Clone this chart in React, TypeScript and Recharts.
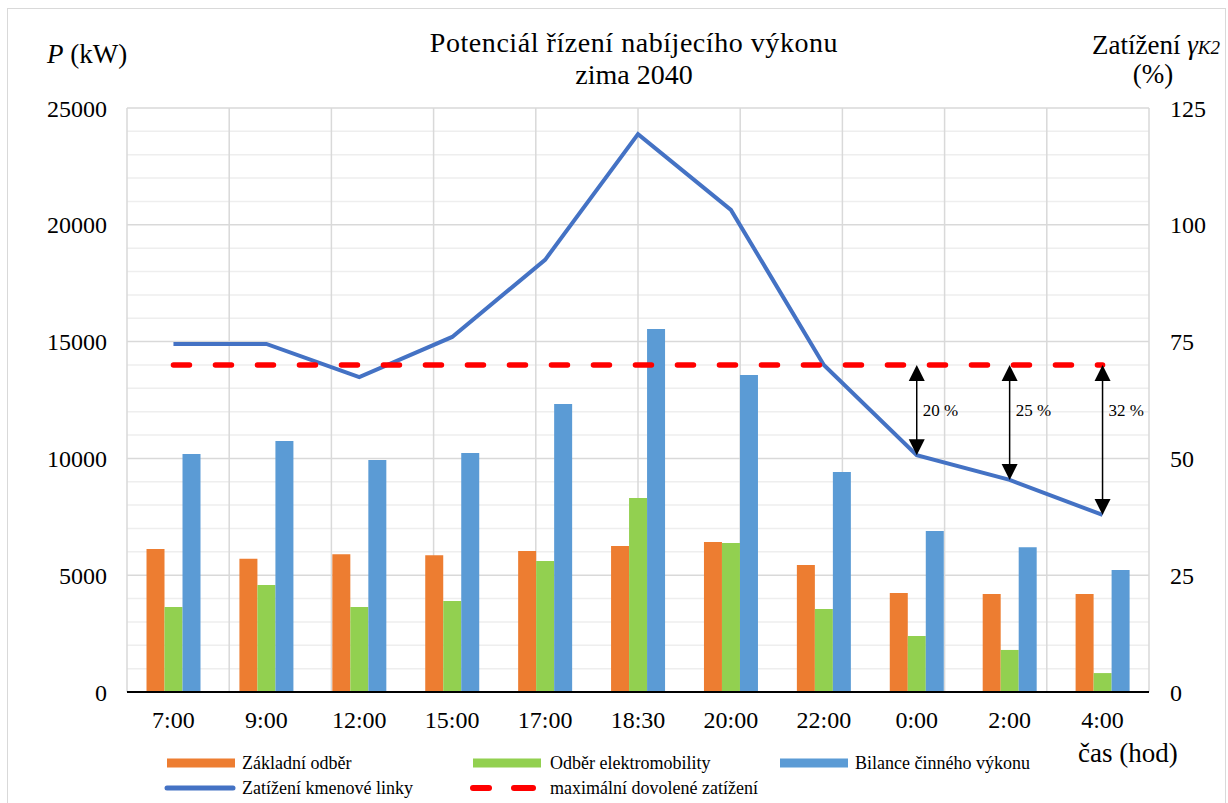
import React from 'react';
import { ComposedChart, Bar, Line, XAxis, YAxis, CartesianGrid, ReferenceLine } from 'recharts';

const categories = ['7:00', '9:00', '12:00', '15:00', '17:00', '18:30', '20:00', '22:00', '0:00', '2:00', '4:00'];
const baseLoad = [6120, 5700, 5900, 5850, 6040, 6250, 6420, 5440, 4240, 4200, 4200];
const evLoad = [3640, 4580, 3640, 3900, 5610, 8300, 6380, 3550, 2400, 1800, 810];
const balance = [10190, 10750, 9930, 10230, 12330, 15540, 13570, 9420, 6890, 6200, 5220];
const lineLoad = [74.5, 74.5, 67.4, 76, 92.5, 119.4, 103.2, 70, 50.7, 45.4, 37.9];
const maxLoad = 70;
const leftTicks = [0, 5000, 10000, 15000, 20000, 25000];
const rightTicks = [0, 25, 50, 75, 100, 125];
const minorTicks = [1000, 2000, 3000, 4000, 6000, 7000, 8000, 9000, 11000, 12000, 13000, 14000, 16000, 17000, 18000, 19000, 21000, 22000, 23000, 24000];
const boundaries = [0, 1, 2, 3, 4, 5, 6, 7, 8, 9, 10, 11];
const arrowCats = ['0:00', '2:00', '4:00'];
const arrowLabels = ['20 %', '25 %', '32 %'];

const seriesNames = {
  base: 'Základní odběr',
  ev: 'Odběr elektromobility',
  bal: 'Bilance činného výkonu',
  load: 'Zatížení kmenové linky',
  limit: 'maximální dovolené zatížení',
};

const COLORS = {
  base: '#ED7D31',
  ev: '#92D050',
  bal: '#5B9BD5',
  load: '#4472C4',
  limit: '#FF0000',
};

const FONT = '"Liberation Serif", "Times New Roman", serif';

const data = categories.map((c, i) => ({
  time: c,
  base: baseLoad[i],
  ev: evLoad[i],
  bal: balance[i],
  load: lineLoad[i],
  limit: maxLoad,
}));

const makeArrow = (label: string) => (props: any) => {
  const { x1, y1, y2 } = props;
  const top = Math.min(y1, y2);
  const bottom = Math.max(y1, y2);
  const x = x1;
  const hw = 8;
  const hh = 16;
  return (
    <g>
      <line x1={x} y1={top + hh - 2} x2={x} y2={bottom - hh + 2} stroke="#000" strokeWidth={1.5} />
      <polygon points={`${x},${top} ${x - hw},${top + hh} ${x + hw},${top + hh}`} fill="#000" />
      <polygon points={`${x},${bottom} ${x - hw},${bottom - hh} ${x + hw},${bottom - hh}`} fill="#000" />
      <text x={x + 6} y={top + 46} dominantBaseline="central" fontSize={17} fontFamily={FONT} fill="#000">
        {label}
      </text>
    </g>
  );
};

const abs = (style: React.CSSProperties): React.CSSProperties => ({
  position: 'absolute',
  fontFamily: FONT,
  color: '#000',
  whiteSpace: 'nowrap',
  ...style,
});

const RectSwatch = ({ color }: { color: string }) => (
  <svg width={68} height={10} style={{ display: 'block' }}>
    <rect x={0} y={0.5} width={68} height={9} fill={color} />
  </svg>
);

const LineSwatch = ({ color }: { color: string }) => (
  <svg width={72} height={10} style={{ display: 'block' }}>
    <line x1={3} y1={5} x2={69} y2={5} stroke={color} strokeWidth={5} strokeLinecap="round" />
  </svg>
);

const DashSwatch = ({ color }: { color: string }) => (
  <svg width={70} height={10} style={{ display: 'block' }}>
    <line x1={3} y1={5} x2={19} y2={5} stroke={color} strokeWidth={6} strokeLinecap="round" />
    <line x1={44} y1={5} x2={63} y2={5} stroke={color} strokeWidth={6} strokeLinecap="round" />
  </svg>
);

const legendItems = [
  { key: 'base', kind: 'rect', sx: 167, tx: 242, y: 763 },
  { key: 'ev', kind: 'rect', sx: 473, tx: 550, y: 763 },
  { key: 'bal', kind: 'rect', sx: 780, tx: 855, y: 763 },
  { key: 'load', kind: 'line', sx: 164, tx: 242, y: 788 },
  { key: 'limit', kind: 'dash', sx: 470, tx: 550, y: 788 },
];

export default function App() {
  return (
    <div style={{ position: 'absolute', left: 0, top: 0, width: 1228, height: 803, background: '#fff', overflow: 'hidden' }}>
      <div style={{ position: 'absolute', left: 7, top: 8, width: 1217, height: 810, border: '1px solid #d9d9d9' }} />
      <div style={{ position: 'absolute', left: 0, top: 0 }}>
        <ComposedChart
          width={1228}
          height={803}
          data={data}
          margin={{ top: 108, right: 0, bottom: 0, left: 0 }}
          barCategoryGap="21%"
          barGap={0}
        >
          <XAxis xAxisId="grid" type="number" domain={[0, 11]} ticks={boundaries} hide />
          <YAxis
            yAxisId="left"
            domain={[0, 25000]}
            ticks={leftTicks}
            width={127}
            tickLine={false}
            axisLine={false}
            tickSize={0}
            tickMargin={20}
            tick={{ fill: '#000', fontSize: 24, fontFamily: FONT }}
            interval={0}
          />
          <YAxis
            yAxisId="right"
            orientation="right"
            domain={[0, 125]}
            ticks={rightTicks}
            width={79}
            tickLine={false}
            axisLine={false}
            tickSize={0}
            tickMargin={21}
            tick={{ fill: '#000', fontSize: 24, fontFamily: FONT, textAnchor: 'start' }}
            interval={0}
          />
          <CartesianGrid
            xAxisId="grid"
            yAxisId="left"
            vertical={false}
            horizontalValues={minorTicks}
            stroke="#eeeeee"
            strokeWidth={1.5}
          />
          <CartesianGrid
            xAxisId="grid"
            yAxisId="left"
            horizontalValues={leftTicks}
            verticalValues={boundaries}
            stroke="#d9d9d9"
            strokeWidth={1.5}
          />
          <XAxis
            xAxisId="cat"
            dataKey="time"
            height={111}
            tickLine={false}
            tickSize={0}
            tickMargin={19}
            axisLine={{ stroke: '#000', strokeWidth: 2 }}
            tick={{ fill: '#000', fontSize: 24, fontFamily: FONT }}
            interval={0}
          />
          <Bar xAxisId="cat" yAxisId="left" dataKey="base" name={seriesNames.base} fill={COLORS.base} isAnimationActive={false} />
          <Bar xAxisId="cat" yAxisId="left" dataKey="ev" name={seriesNames.ev} fill={COLORS.ev} isAnimationActive={false} />
          <Bar xAxisId="cat" yAxisId="left" dataKey="bal" name={seriesNames.bal} fill={COLORS.bal} isAnimationActive={false} />
          <Line
            xAxisId="cat"
            yAxisId="right"
            dataKey="load"
            name={seriesNames.load}
            stroke={COLORS.load}
            strokeWidth={4}
            dot={false}
            activeDot={false}
            isAnimationActive={false}
          />
          <Line
            xAxisId="cat"
            yAxisId="right"
            dataKey="limit"
            name={seriesNames.limit}
            stroke={COLORS.limit}
            strokeWidth={5.5}
            strokeDasharray="16 26"
            strokeLinecap="round"
            dot={false}
            activeDot={false}
            isAnimationActive={false}
          />
          {arrowCats.map((c, i) => (
            <ReferenceLine
              key={c}
              xAxisId="cat"
              yAxisId="right"
              segment={[
                { x: c, y: maxLoad },
                { x: c, y: lineLoad[categories.indexOf(c)] },
              ]}
              stroke="#000"
              shape={makeArrow(arrowLabels[i])}
            />
          ))}
        </ComposedChart>
      </div>

      <div style={abs({ left: 334, width: 600, top: 26, textAlign: 'center', fontSize: 28, lineHeight: '34px', letterSpacing: '0.55px' })}>
        Potenciál řízení nabíjecího výkonu
      </div>
      <div style={abs({ left: 334, width: 600, top: 58, textAlign: 'center', fontSize: 28, lineHeight: '34px' })}>
        zima 2040
      </div>
      <div style={abs({ left: 47, top: 38, fontSize: 27, lineHeight: '32px' })}>
        <i>P</i> (kW)
      </div>
      <div style={abs({ left: 1092, top: 29, fontSize: 27, lineHeight: '32px' })}>
        Zatížení <i>γ</i>
        <i style={{ fontSize: 19 }}>K2</i>
      </div>
      <div style={abs({ left: 1103, width: 100, top: 58, textAlign: 'center', fontSize: 27, lineHeight: '32px' })}>
        (%)
      </div>
      <div style={abs({ left: 1078, top: 737, fontSize: 27, lineHeight: '32px' })}>čas (hod)</div>

      {legendItems.map((it) => (
        <React.Fragment key={it.key}>
          <div style={{ position: 'absolute', left: it.sx, top: it.y - 5 }}>
            {it.kind === 'rect' ? (
              <RectSwatch color={(COLORS as any)[it.key]} />
            ) : it.kind === 'line' ? (
              <LineSwatch color={(COLORS as any)[it.key]} />
            ) : (
              <DashSwatch color={(COLORS as any)[it.key]} />
            )}
          </div>
          <div style={abs({ left: it.tx, top: it.y - 12, fontSize: 18, lineHeight: '24px' })}>
            {(seriesNames as any)[it.key]}
          </div>
        </React.Fragment>
      ))}
    </div>
  );
}
